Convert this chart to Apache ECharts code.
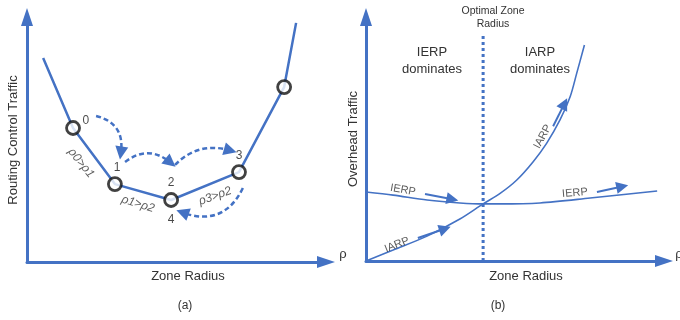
<!DOCTYPE html>
<html>
<head>
<meta charset="utf-8">
<script src="https://cdn.jsdelivr.net/npm/echarts@6/dist/echarts.min.js"></script>
<style>
  html, body { margin: 0; padding: 0; background: #fff; }
  #chart { width: 680px; height: 320px; }
</style>
</head>
<body>
<div id="chart"></div>
<script>
// ---------- Panel (a): routing control traffic against zone radius ----------
// Abstract units: both axes run 0..100.
const trafficCurve = [[5.4, 83.3], [15.4, 54.7], [29.4, 31.8], [48.2, 25.3], [70.9, 36.7], [86.0, 71.4], [90.0, 97.6]];
// Radii probed by the search (circled points)
const probePoints = trafficCurve.slice(1, 6);
const stepNames = ['0', '1', '2', '3', '4'];
const stepLabelPos = [[19.7, 57.6], [30.1, 38.4], [48.2, 32.2], [70.9, 43.3], [48.2, 17.1]];
const compareNames = ['ρ0>ρ1', 'ρ1>ρ2', 'ρ3>ρ2'];
const comparePos = [[18.1, 40.4], [37.1, 23.7], [62.9, 26.9]];
const compareAngle = [-51, -17, 20];
// Search moves: [from, to, bend]
const searchMoves = [
  [[23.1, 59.6], [31.4, 44.5], 0.45],
  [[32.8, 40.8], [48.0, 40.6], 0.4],
  [[49.5, 39.6], [68.0, 45.5], 0.3],
  [[72.2, 30.2], [52.0, 20.2], 0.45]
];

// ---------- Panel (b): overhead traffic against zone radius ----------
const ierpCurve = [[0, 28.3], [9.1, 27.0], [20.5, 25.0], [31.5, 23.8], [39.3, 23.4], [45.0, 23.4], [58.4, 23.8], [75.2, 25.8], [97.7, 28.7]];
const iarpCurve = [[0, 0], [9.1, 4.5], [20.5, 10.2], [31.5, 17.2], [39.3, 23.4], [45.0, 27.7], [50.6, 33.2], [56.1, 40.7],
                   [60.6, 48.2], [65.1, 57.8], [68.5, 67.3], [70.7, 76.9], [73.3, 88.5]];
const optimalRadius = 39.3;
const optimalTop = 93.4;
const protoNames = ['IERP', 'IERP', 'IARP', 'IARP'];
const protoLabelPos = [[12.4, 29.1], [70.1, 27.9], [10.4, 6.6], [59.3, 51.0]];
const protoAngle = [-10, 5, 22, 62];
const protoArrows = [
  [[19.8, 27.5], [29.0, 25.3]],
  [[77.5, 28.3], [86.0, 30.5]],
  [[17.4, 9.4], [26.5, 13.2]],
  [[62.8, 55.2], [66.6, 64.5]]
];

const BLUE = '#4472C4';
const TEXT = '#333333';
const FONT = 'Liberation Sans, Arial, sans-serif';

function axisPair(gi) {
  const base = {
    gridIndex: gi, type: 'value', min: 0, max: 100,
    axisLine: { show: true, onZero: false, symbol: ['none', 'triangle'], symbolSize: [12, 18],
      lineStyle: { color: BLUE, width: 3 } },
    axisTick: { show: false }, axisLabel: { show: false }, splitLine: { show: false }
  };
  return [Object.assign({}, base), Object.assign({}, base)];
}
const [xa0, ya0] = axisPair(0);
const [xa1, ya1] = axisPair(1);

function textItems(names, pos, angles, extra) {
  return names.map((n, i) => ({
    value: pos[i], name: n,
    label: Object.assign({ rotate: angles ? angles[i] : 0 }, extra || {})
  }));
}

function labelSeries(gi, data, style) {
  return {
    type: 'scatter', xAxisIndex: gi, yAxisIndex: gi, symbolSize: 1, silent: true,
    itemStyle: { color: 'rgba(0,0,0,0)' },
    label: Object.assign({ show: true, position: 'inside', formatter: '{b}', color: TEXT,
      fontFamily: FONT, fontSize: 12 }, style || {}),
    data: data, z: 5
  };
}

const chart = echarts.init(document.getElementById('chart'), null, { renderer: 'canvas' });
chart.setOption({
  animation: false,
  backgroundColor: '#ffffff',
  grid: [
    { left: 27, top: 17, width: 299, height: 245 },
    { left: 366, top: 17, width: 298, height: 244 }
  ],
  xAxis: [xa0, xa1],
  yAxis: [ya0, ya1],
  series: [
    // (a) traffic curve
    { type: 'line', xAxisIndex: 0, yAxisIndex: 0, data: trafficCurve, symbol: 'none', silent: true,
      lineStyle: { color: BLUE, width: 2.5 }, z: 3 },
    { type: 'scatter', xAxisIndex: 0, yAxisIndex: 0, data: probePoints, symbol: 'circle', symbolSize: 13,
      silent: true, itemStyle: { color: '#ffffff', borderColor: '#111111', borderWidth: 2.8 }, z: 4 },
    { type: 'lines', coordinateSystem: 'cartesian2d', xAxisIndex: 0, yAxisIndex: 0, silent: true,
      symbol: ['none', 'triangle'], symbolSize: 13,
      lineStyle: { color: BLUE, width: 2.5, type: [5, 3], opacity: 1 },
      data: searchMoves.map(m => ({ coords: [m[0], m[1]], lineStyle: { curveness: m[2] } })), z: 3 },
    labelSeries(0, textItems(stepNames, stepLabelPos, null), { color: '#1a1a1a', fontSize: 12 }),
    labelSeries(0, textItems(compareNames, comparePos, compareAngle), { fontStyle: 'italic', fontSize: 12 }),

    // (b) overhead curves
    { type: 'line', xAxisIndex: 1, yAxisIndex: 1, data: ierpCurve, symbol: 'none', smooth: 0.3, silent: true,
      lineStyle: { color: BLUE, width: 1.6 }, z: 3 },
    { type: 'line', xAxisIndex: 1, yAxisIndex: 1, data: iarpCurve, symbol: 'none', smooth: 0.3, silent: true,
      lineStyle: { color: BLUE, width: 1.6 }, z: 3 },
    { type: 'line', xAxisIndex: 1, yAxisIndex: 1, data: [[optimalRadius, 0], [optimalRadius, optimalTop]],
      symbol: 'none', silent: true, lineStyle: { color: BLUE, width: 3, type: [3, 3] }, z: 2 },
    { type: 'lines', coordinateSystem: 'cartesian2d', xAxisIndex: 1, yAxisIndex: 1, silent: true,
      symbol: ['none', 'triangle'], symbolSize: 12,
      lineStyle: { color: BLUE, width: 2, opacity: 1, curveness: 0 },
      data: protoArrows.map(a => ({ coords: a })), z: 3 },
    labelSeries(1, textItems(protoNames, protoLabelPos, protoAngle), { fontSize: 11 })
  ],
  graphic: [
    { type: 'text', x: 13, y: 140, rotation: Math.PI / 2,
      style: { text: 'Routing Control Traffic', fill: TEXT, font: '13px ' + FONT, align: 'center', verticalAlign: 'middle' } },
    { type: 'text', x: 353, y: 139, rotation: Math.PI / 2,
      style: { text: 'Overhead Traffic', fill: TEXT, font: '13px ' + FONT, align: 'center', verticalAlign: 'middle' } },
    { type: 'text', x: 188, y: 276,
      style: { text: 'Zone Radius', fill: TEXT, font: '13px ' + FONT, align: 'center', verticalAlign: 'middle' } },
    { type: 'text', x: 526, y: 276,
      style: { text: 'Zone Radius', fill: TEXT, font: '13px ' + FONT, align: 'center', verticalAlign: 'middle' } },
    { type: 'text', x: 185, y: 306,
      style: { text: '(a)', fill: TEXT, font: '12px ' + FONT, align: 'center', verticalAlign: 'middle' } },
    { type: 'text', x: 498, y: 306,
      style: { text: '(b)', fill: TEXT, font: '12px ' + FONT, align: 'center', verticalAlign: 'middle' } },
    { type: 'text', x: 343, y: 254,
      style: { text: 'ρ', fill: TEXT, font: '13px ' + FONT, align: 'center', verticalAlign: 'middle' } },
    { type: 'text', x: 679, y: 254,
      style: { text: 'ρ', fill: TEXT, font: '13px ' + FONT, align: 'center', verticalAlign: 'middle' } },
    { type: 'text', x: 493, y: 18,
      style: { text: 'Optimal Zone\nRadius', fill: TEXT, font: '10.5px ' + FONT, align: 'center', verticalAlign: 'middle', lineHeight: 13 } },
    { type: 'text', x: 432, y: 61,
      style: { text: 'IERP\ndominates', fill: TEXT, font: '13px ' + FONT, align: 'center', verticalAlign: 'middle', lineHeight: 17 } },
    { type: 'text', x: 540, y: 61,
      style: { text: 'IARP\ndominates', fill: TEXT, font: '13px ' + FONT, align: 'center', verticalAlign: 'middle', lineHeight: 17 } }
  ]
});
</script>
</body>
</html>
